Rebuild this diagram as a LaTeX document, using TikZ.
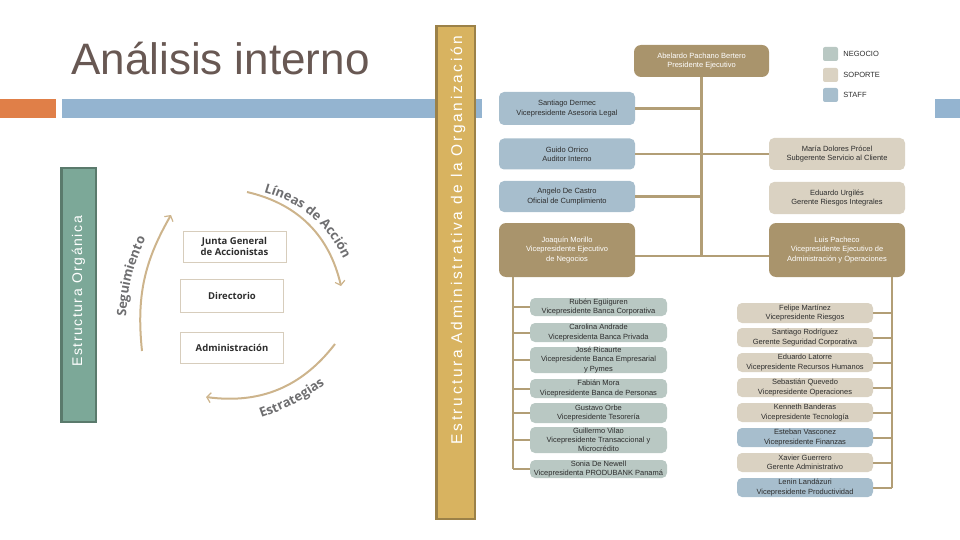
\documentclass[tikz,border=0pt]{standalone}
\usepackage{fontspec}
\setmainfont{Liberation Sans}
\newfontfamily\circfont{Open Sans}
\usetikzlibrary{arrows.meta,decorations.text,positioning}
\definecolor{brownbox}{RGB}{169,148,108}
\definecolor{linktan}{RGB}{178,158,118}
\definecolor{negociogreen}{RGB}{185,200,195}
\definecolor{soportebeige}{RGB}{218,210,194}
\definecolor{staffblue}{RGB}{167,190,205}
\definecolor{inktext}{RGB}{45,45,45}
\definecolor{titlebrown}{RGB}{104,88,83}
\definecolor{barorange}{RGB}{224,127,72}
\definecolor{barblue}{RGB}{148,180,208}
\definecolor{goldbox}{RGB}{216,179,96}
\definecolor{goldedge}{RGB}{155,129,72}
\definecolor{greenbox}{RGB}{124,168,152}
\definecolor{greenedge}{RGB}{90,122,108}
\definecolor{arcgold}{RGB}{205,180,140}
\definecolor{arcgray}{RGB}{110,110,112}
\definecolor{tierline}{RGB}{215,205,188}
\newcommand\arcfont{\circfont\bfseries\fontsize{13}{13}\selectfont\color{arcgray}}

\begin{document}
\begin{tikzpicture}[x=1pt,y=-1pt,every node/.style={inner sep=0pt}]
\tikzstyle{box}=[rounded corners=5pt,align=center,font=\fontsize{7.5}{9.3}\selectfont,text=inktext,minimum width=136pt]
\tikzstyle{mando}=[box,fill=brownbox,text=white,rounded corners=7pt]
\tikzstyle{staff}=[box,fill=staffblue]
\tikzstyle{soporte}=[box,fill=soportebeige]
\tikzstyle{negocio}=[box,fill=negociogreen,minimum width=137pt]
\tikzstyle{link}=[draw=linktan,line width=2.5pt]
\tikzstyle{key}=[rounded corners=2pt,minimum width=15pt,minimum height=14pt]
\tikzstyle{tier}=[draw=tierline,line width=0.8pt,font=\circfont\bfseries\fontsize{9.5}{11.5}\selectfont,text=inktext,align=center,minimum width=103pt,minimum height=31pt]
\tikzstyle{cycle}=[draw=arcgold,line width=2pt,-{Straight Barb[length=4pt,width=10pt,line width=1.2pt]}]
\useasboundingbox (0,0) rectangle (960,540);

% title and bars
\fill[barorange] (0,99) rectangle (56,118);
\fill[barblue] (62,99) rectangle (482,118);
\fill[barblue] (935,99) rectangle (960,118);
\node[anchor=base west,text=titlebrown,font=\fontsize{44}{44}\selectfont] (title) at (71,75) {Análisis interno};

% side labels
\node[draw=greenedge,fill=greenbox,line width=2.5pt,minimum width=34.5pt,minimum height=253.5pt] (orgbox) at (78.5,295) {};
\node[rotate=90,text=white,font={\fontsize{14}{14}\selectfont\addfontfeature{LetterSpace=11}}] (orgtxt) at (78.5,291.5) {Estructura Orgánica};
\node[draw=goldedge,fill=goldbox,line width=2.5pt,minimum width=38.5pt,minimum height=492.5pt] (adminbox) at (455.5,272.5) {};
\node[rotate=90,text=white,font={\fontsize{15.5}{15.5}\selectfont\addfontfeature{LetterSpace=17}}] (admintxt) at (458,240) {Estructura Administrativa de la Organización};

% governing bodies
\node[tier] (junta) at (234.5,246.5) {Junta General\\de Accionistas};
\node[tier,minimum height=33pt] (direc) at (232,295.5) {Directorio};
\node[tier] (admin) at (232,347.5) {Administración};

\coordinate (seg0) at (142,351);
\coordinate (seg1) at (171,215);
\coordinate (lin0) at (247,192);
\coordinate (lin1) at (341,286);
\coordinate (est0) at (335,344);
\coordinate (est1) at (206,397);
\path[cycle] (seg0) to[bend left=18] (seg1);
\path[cycle] (lin0) to[bend left=32] (lin1);
\path[cycle] (est0) to[bend left=30] (est1);
\path[decorate,decoration={text along path,text align=center,text={|\arcfont|Seguimiento}}] (126,322) to[bend left=12] (148,234);
\path[decorate,decoration={text along path,text align=center,text={|\arcfont|Líneas de Acción}}] (251,189) to[bend left=28] (349,271);
\path[decorate,decoration={text along path,text align=center,text={|\arcfont|Estrategias}}] (246,423) to[bend right=10] (338,375);

% chart
\node[mando,minimum width=135pt,minimum height=32pt] (pres) at (701.5,61) {Abelardo Pachano Bertero\\Presidente Ejecutivo};

\node[key,fill=negociogreen] (k1) at (830.5,54) {};
\node[key,fill=soportebeige] (k2) at (830.5,75) {};
\node[key,fill=staffblue] (k3) at (830.5,95) {};
\node[right=5pt of k1,font=\fontsize{7.5}{9}\selectfont,text=inktext] (k1t) {NEGOCIO};
\node[right=5pt of k2,font=\fontsize{7.5}{9}\selectfont,text=inktext] (k2t) {SOPORTE};
\node[right=5pt of k3,font=\fontsize{7.5}{9}\selectfont,text=inktext] (k3t) {STAFF};

\node[staff,minimum height=33pt] (s1) at (567,108.5) {Santiago Dermec\\Vicepresidente Asesoria Legal};
\node[staff,minimum height=31pt] (s2) at (567,154) {Guido Orrico\\Auditor Interno};
\node[staff,minimum height=31pt] (s3) at (567,196.5) {Angelo De Castro\\Oficial de Cumplimiento};
\node[soporte,minimum height=32pt] (m1) at (837,154) {María Dolores Prócel\\Subgerente Servicio al Cliente};
\node[soporte,minimum height=32pt] (m2) at (837,198) {Eduardo Urgilés\\Gerente Riesgos Integrales};

\node[mando,minimum height=54pt] (vn) at (567,250) {Joaquín Morillo\\Vicepresidente Ejecutivo\\de Negocios};
\node[mando,minimum height=54pt] (vo) at (837,250) {Luis Pacheco\\Vicepresidente Ejecutivo de\\Administración y Operaciones};

\node[negocio,minimum height=18pt] (a1) at (598.5,307) {Rubén Egüiguren\\Vicepresidente Banca Corporativa};
\node[negocio,minimum height=19pt] (a2) at (598.5,332.5) {Carolina Andrade\\Vicepresidenta Banca Privada};
\node[negocio,minimum height=26pt] (a3) at (598.5,360) {José Ricaurte\\Vicepresidente Banca Empresarial\\y Pymes};
\node[negocio,minimum height=19pt] (a4) at (598.5,388.5) {Fabián Mora\\Vicepresidente Banca de Personas};
\node[negocio,minimum height=20pt] (a5) at (598.5,413) {Gustavo Orbe\\Vicepresidente Tesorería};
\node[negocio,minimum height=26pt] (a6) at (598.5,440) {Guillermo Vilao\\Vicepresidente Transaccional y\\Microcrédito};
\node[negocio,minimum height=18pt] (a7) at (598.5,469) {Sonia De Newell\\Vicepresidenta PRODUBANK Panamá};

\node[soporte,minimum height=20pt] (b1) at (805,313) {Felipe Martínez\\Vicepresidente Riesgos};
\node[soporte,minimum height=19pt] (b2) at (805,337.5) {Santiago Rodríguez\\Gerente Seguridad Corporativa};
\node[soporte,minimum height=19pt] (b3) at (805,362.5) {Eduardo Latorre\\Vicepresidente Recursos Humanos};
\node[soporte,minimum height=19pt] (b4) at (805,387.5) {Sebastián Quevedo\\Vicepresidente Operaciones};
\node[soporte,minimum height=19pt] (b5) at (805,412.5) {Kenneth Banderas\\Vicepresidente Tecnología};
\node[staff,minimum height=19pt] (b6) at (805,437.5) {Esteban Vasconez\\Vicepresidente Finanzas};
\node[soporte,minimum height=19pt] (b7) at (805,462.5) {Xavier Guerrero\\Gerente Administrativo};
\node[staff,minimum height=19pt] (b8) at (805,487.5) {Lenin Landázuri\\Vicepresidente Productividad};

\coordinate (hub) at (701.5,256);
\coordinate (ltop) at (513,277);
\coordinate (rtop) at (892,277);

\path[link](pres.south)--(hub);
\path[link](vn.east |- hub)--(vo.west |- hub);
\path[link](s1.east)--(s1.east -| hub);
\path[link](s2.east)--(m1.west);
\path[link](s3.east)--(s3.east -| hub);

\path[link,line width=2pt](ltop)--(ltop |- a7.west);
\path[link,line width=2pt](a1.west)--(a1.west -| ltop);
\path[link,line width=2pt](a2.west)--(a2.west -| ltop);
\path[link,line width=2pt](a3.west)--(a3.west -| ltop);
\path[link,line width=2pt](a4.west)--(a4.west -| ltop);
\path[link,line width=2pt](a5.west)--(a5.west -| ltop);
\path[link,line width=2pt](a6.west)--(a6.west -| ltop);
\path[link,line width=2pt](a7.west)--(a7.west -| ltop);

\path[link,line width=2pt](rtop)--(rtop |- b8.east);
\path[link,line width=2pt](b1.east)--(b1.east -| rtop);
\path[link,line width=2pt](b2.east)--(b2.east -| rtop);
\path[link,line width=2pt](b3.east)--(b3.east -| rtop);
\path[link,line width=2pt](b4.east)--(b4.east -| rtop);
\path[link,line width=2pt](b5.east)--(b5.east -| rtop);
\path[link,line width=2pt](b6.east)--(b6.east -| rtop);
\path[link,line width=2pt](b7.east)--(b7.east -| rtop);
\path[link,line width=2pt](b8.east)--(b8.east -| rtop);
\end{tikzpicture}
\end{document}
